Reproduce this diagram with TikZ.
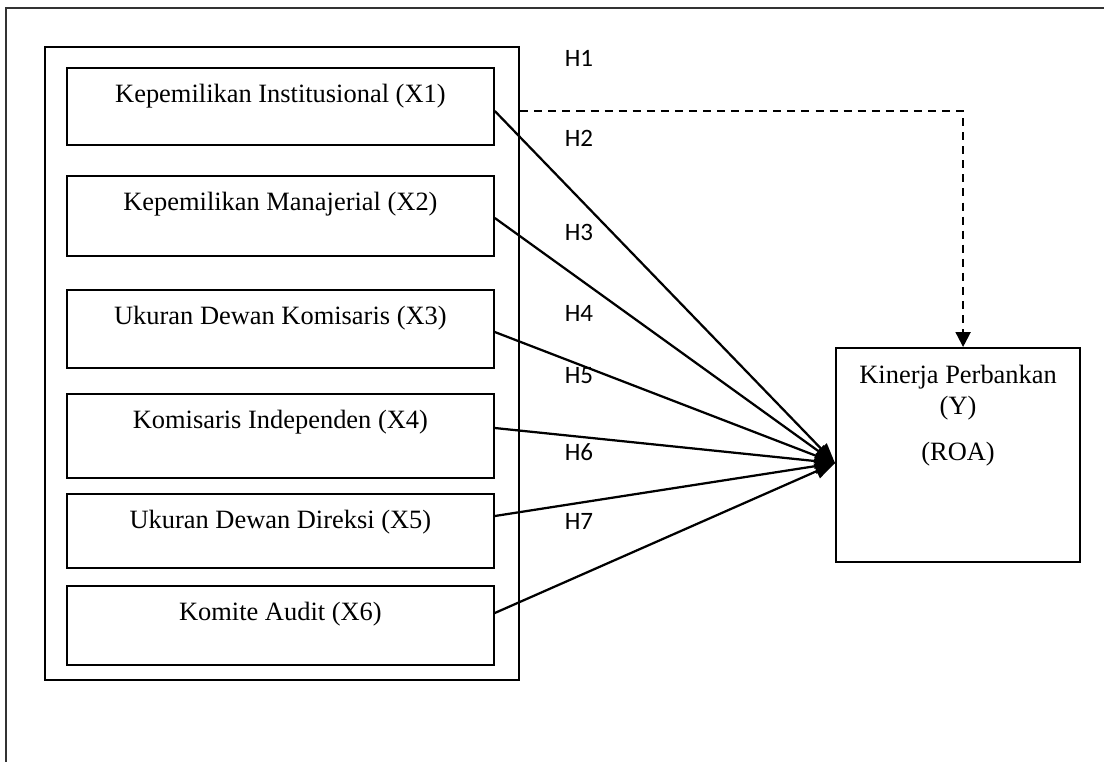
\documentclass[tikz,border=0pt]{standalone}
\usepackage{fontspec}
\setmainfont{Liberation Serif}
\newfontfamily\hfont{Carlito}
\usetikzlibrary{arrows.meta,positioning,calc}
\tikzset{
    varbox/.style = {draw, rectangle, line width=1.2pt, anchor=north west, minimum width=10.675cm, inner sep=0pt, text height=0.875cm},
    hlabel/.style = {inner sep=0pt, font=\hfont\fontsize{17.8}{20}\selectfont},
    link/.style = {line width=1.6pt, -{Triangle[length=0.5cm, width=0.38cm]}},
    dashlink/.style = {line width=1.5pt, dash pattern=on 5.7pt off 4.3pt, -{Triangle[length=0.37cm, width=0.37cm]}},
}

\begin{document}
\begin{tikzpicture}[
    x=0.025cm, y=-0.025cm,
    every node/.style={font=\fontsize{18.8}{22}\selectfont}
]
\useasboundingbox (0,0) rectangle (1104,762);
\clip (0,0) rectangle (1104,762);

% Outer frame (cut off at right and bottom)
\draw[line width=1.2pt, black!80] (6,790) |- (1130,8);

% Group of independent variables
\node[draw, rectangle, line width=1.5pt, anchor=north west, minimum width=11.85cm, minimum height=15.825cm] (grp) at (44,46) {};

\node[varbox, text depth=1.05cm] (x1) at (66,67) {Kepemilikan Institusional (X1)};
\node[varbox, text depth=1.125cm] (x2) at (66,175) {Kepemilikan Manajerial (X2)};
\node[varbox, text depth=1.075cm] (x3) at (66,289) {Ukuran Dewan Komisaris (X3)};
\node[varbox, text depth=1.225cm] (x4) at (66,393) {Komisaris Independen (X4)};
\node[varbox, text depth=0.975cm] (x5) at (66,493) {Ukuran Dewan Direksi (X5)};
\node[varbox, text depth=1.1cm] (x6) at (66,585) {Komite Audit (X6)};

% Dependent variable
\node[draw, rectangle, line width=1.5pt, anchor=north west, minimum width=6.1cm, minimum height=5.35cm] (kin) at (835,347) {};
\node[anchor=north, inner sep=0pt, align=center, below=0.45cm of kin.north] (kintxt) {Kinerja Perbankan\\(Y)\\[11pt](ROA)};

% Hypothesis labels
\node[hlabel] (h1) at (579,58) {H1};
\node[hlabel] (h2) at (579,138) {H2};
\node[hlabel] (h3) at (579,232) {H3};
\node[hlabel] (h4) at (579,313) {H4};
\node[hlabel] (h5) at (579,376) {H5};
\node[hlabel] (h6) at (579,452) {H6};
\node[hlabel] (h7) at (579,521) {H7};

% Arrows to Kinerja Perbankan
\draw[link] ([yshift=-1.1cm]x1.north east) -- ([yshift=-0.2cm]kin.west);
\draw[link] ([yshift=-1.075cm]x2.north east) -- ([yshift=-0.2cm]kin.west);
\draw[link] ([yshift=-1.075cm]x3.north east) -- ([yshift=-0.2cm]kin.west);
\draw[link] ([yshift=-0.875cm]x4.north east) -- ([yshift=-0.2cm]kin.west);
\draw[link] ([yshift=-0.575cm]x5.north east) -- ([yshift=-0.2cm]kin.west);
\draw[link] ([yshift=-0.7cm]x6.north east) -- ([yshift=-0.2cm]kin.west);

% Simultaneous effect (dashed)
\draw[dashlink] ([yshift=-1.625cm]grp.north east) -| ([xshift=0.125cm]kin.north);

\end{tikzpicture}
\end{document}
